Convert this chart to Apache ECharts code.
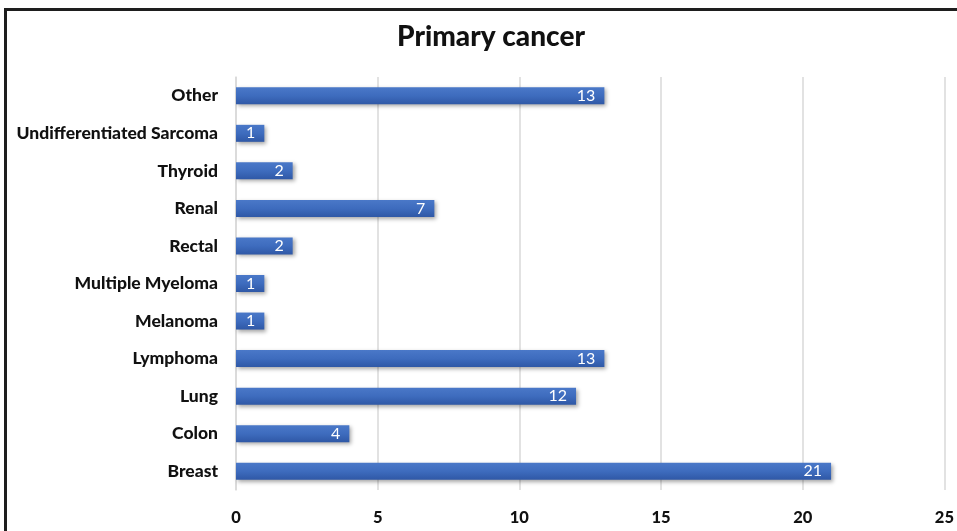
<!DOCTYPE html>
<html>
<head>
<meta charset="utf-8">
<script src="https://cdn.jsdelivr.net/npm/echarts@6/dist/echarts.min.js"></script>
<style>
  html, body { margin: 0; padding: 0; background: #fff; }
  #frame {
    position: absolute; left: 4px; top: 8px; width: 953px; height: 523px;
    border-top: 3px solid #1e1e1e; border-left: 3px solid #1e1e1e;
    box-sizing: border-box;
  }
  #chart { position: absolute; left: 0; top: 0; width: 957px; height: 531px; }
</style>
</head>
<body>
<div id="frame"></div>
<div id="chart"></div>
<script>
const categories = [
  "Breast", "Colon", "Lung", "Lymphoma", "Melanoma", "Multiple Myeloma",
  "Rectal", "Renal", "Thyroid", "Undifferentiated Sarcoma", "Other"
];
const counts = [21, 4, 12, 13, 1, 1, 2, 7, 2, 1, 13];
const xTicks = [0, 5, 10, 15, 20, 25];

const chart = echarts.init(document.getElementById("chart"));

chart.setOption({
  animation: false,
  title: {
    text: "Primary cancer",
    left: 486,
    textAlign: "center",
    top: 18,
    textStyle: { fontFamily: "Lato", fontWeight: 900, fontSize: 28, color: "#111" }
  },
  grid: { left: 236, right: 11, top: 77, bottom: 41 },
  xAxis: {
    type: "value",
    min: xTicks[0],
    max: xTicks[xTicks.length - 1],
    interval: 5,
    axisLine: { show: false },
    axisTick: { show: false },
    splitLine: { lineStyle: { color: "#d9d9d9", width: 1.5 } },
    axisLabel: {
      margin: 19,
      fontFamily: "Lato", fontWeight: 900, fontSize: 16.5, color: "#111"
    }
  },
  yAxis: {
    type: "category",
    data: categories,
    axisLine: { show: true, lineStyle: { color: "#d9d9d9", width: 1.5 } },
    axisTick: { show: false },
    axisLabel: {
      margin: 18,
      fontFamily: "Lato", fontWeight: 900, fontSize: 17.5, color: "#111"
    }
  },
  series: [{
    type: "bar",
    data: counts,
    barWidth: 17,
    itemStyle: {
      color: new echarts.graphic.LinearGradient(0, 0, 0, 1, [
        { offset: 0, color: "#4a78c8" },
        { offset: 0.5, color: "#3e6cbe" },
        { offset: 1, color: "#2f58a6" }
      ]),
      shadowColor: "rgba(0,0,0,0.35)",
      shadowBlur: 4,
      shadowOffsetX: 2,
      shadowOffsetY: 2
    },
    label: {
      show: true,
      position: "insideRight",
      distance: 9,
      color: "#fff",
      fontFamily: "Lato",
      fontSize: 16
    }
  }]
});
</script>
</body>
</html>
